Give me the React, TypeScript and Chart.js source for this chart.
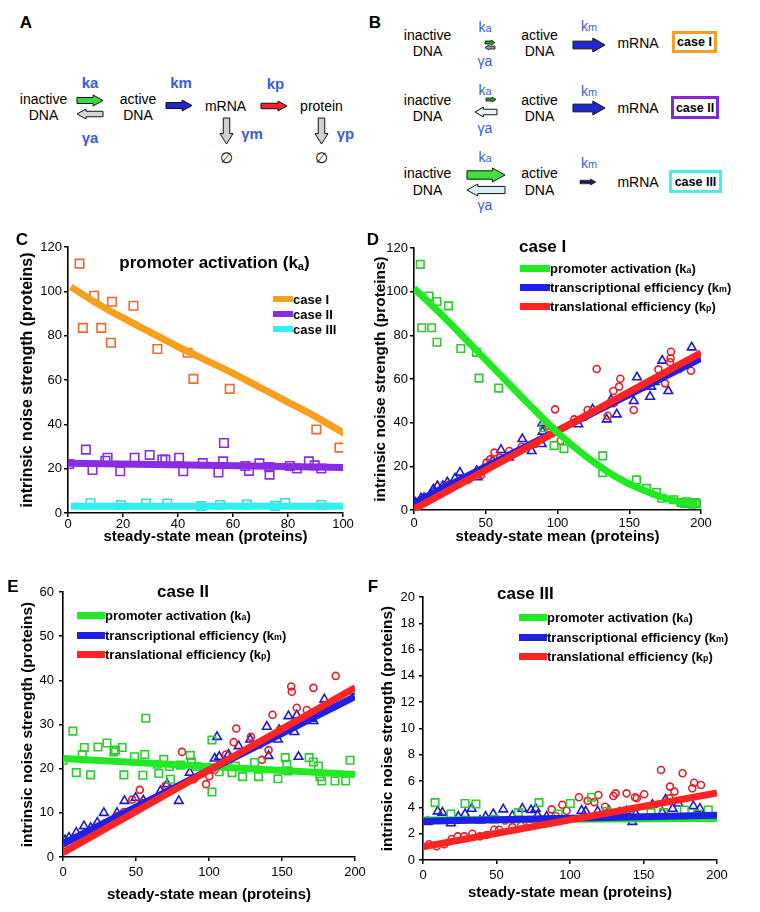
import React, { useEffect, useRef } from 'react';
import { Chart, registerables } from 'chart.js';
Chart.register(...registerables);

const FONT = '"Liberation Sans", Arial, Helvetica, sans-serif';
type Pt = [number, number];

// ---------- Panel C : promoter activation (ka), x 0..100 ----------
const cXTicks = [0, 20, 40, 60, 80, 100];
const cYTicks = [0, 20, 40, 60, 80, 100, 120];
const cCase1Pts: Pt[] = [[4.2,112.5],[5.4,83.5],[9.5,98],[12.1,83.5],[16,95.3],[15.6,76.8],[23.8,93.5],[32.5,74],[43.5,72.3],[45.6,60.5],[58.8,56],[90.3,37.7],[98.7,29.5]];
const cCase1Fit: Pt[] = [[1,102],[10,95],[20,88],[30,81.5],[40,75],[50,69],[60,63],[70,56.5],[80,50],[90,43.5],[101,35.5]];
const cCase2Pts: Pt[] = [[0.4,22.1],[6.5,28.6],[8.9,19.4],[13.6,23.6],[14.4,24.9],[19,18.8],[24.2,24.9],[29.7,26.2],[34.3,24.1],[35.4,24.1],[40.4,24.9],[41.9,18.8],[49,22.5],[54.7,18.3],[56.4,23.3],[56.7,31.6],[64.5,21.2],[65.8,19],[69.6,22.4],[73.2,20.7],[73.3,17.3],[80.7,21.2],[83.2,20.1],[87.6,23.3],[89.7,21.5],[92.1,20.1]];
const cCase2Fit: Pt[] = [[0,22.5],[101,20.5]];
const cCase3Pts: Pt[] = [[8.2,4.4],[19.2,3.6],[28.4,4.3],[36.1,4.3],[48.4,3.1],[55.3,3.6],[65,3.8],[75.3,3.2],[79,4.5],[92.1,3.6]];
const cCase3Fit: Pt[] = [[1,3],[101,3]];

// ---------- Panel D : case I ----------
const dXTicks = [0, 50, 100, 150, 200];
const dYTicks = [0, 20, 40, 60, 80, 100, 120];
const dPromoterPts: Pt[] = [[4.4,112.5],[5.4,83.5],[10.5,98],[12.3,83.5],[16,95.5],[16,76.8],[24,93.5],[32.6,74],[43.5,72.2],[45.3,60.4],[59,55.8],[90.3,37.7],[97.6,29.5],[104.5,28.1],[131.5,24.8],[131.5,17.1],[155,13.8],[162,9.9],[169,8],[172.6,5.4],[181,4.7],[186,3.5],[188.5,3],[190,3.8],[192,3.2],[194,2.7],[196,3.4],[197,2.9]];
const dPromoterFit: Pt[] = [[0,101.5],[20,89],[40,75.5],[60,62],[80,48.5],[100,35.5],[120,24.5],[140,15.5],[160,9],[180,4.5],[197,2.8]];
const dTranscriptPts: Pt[] = [[0.7,3.5],[4.9,5.4],[7,5.5],[11.8,7.3],[13.5,9.5],[16.3,11],[20,11],[23.2,12.7],[28.6,14.5],[32,17.1],[43.7,17.9],[44.4,15],[48.3,18.9],[54.8,22.6],[60.6,27.5],[66.2,24.1],[75.5,32.5],[82,27],[89,30.2],[89.4,39.7],[89.6,35.9],[98.3,35.9],[114.5,39.3],[124.5,46.1],[134.3,41.5],[137.3,50.4],[141.3,43.8],[153.1,49.9],[155.4,60.8],[157.6,56],[164.5,51.9],[165.2,56.5],[167.5,58.6],[173,68.4],[177.2,54.5],[183,64.4],[193.5,74.5]];
const dTranscriptFit: Pt[] = [[0,3.2],[200,69.5]];
const dTranslatPts: Pt[] = [[2,1.5],[4.9,3.8],[9.5,5.8],[14.6,6.9],[19,8.5],[23.9,11.5],[30,12],[38,14],[46.7,16],[50.6,21.7],[53,23.2],[56,26.3],[60,24],[66.4,27],[75,29],[84.3,30.2],[93.6,38.5],[95,35.9],[98.3,46.1],[102.2,31.7],[111.7,41.5],[119.2,42.7],[121,45.8],[127.3,64.6],[135,43.2],[138.9,54.5],[139.1,48.9],[142.9,56.5],[143.8,60.1],[153.1,45.8],[170.3,64.4],[174.9,58],[178.4,67.7],[178.8,69.5],[179.1,72.5],[193,63.8]];
const dTranslatFit: Pt[] = [[0,0.3],[200,72]];

// ---------- Panel E : case II ----------
const eXTicks = [0, 50, 100, 150, 200];
const eYTicks = [0, 10, 20, 30, 40, 50, 60];
const ePromoterPts: Pt[] = [[0,21.9],[6.8,28.5],[9.1,19.1],[13.2,23.2],[14.6,24.8],[18.9,18.6],[23.9,24.9],[30.1,25.8],[34.9,23.8],[36,24.2],[40.5,24.8],[41.7,18.6],[49,22.7],[54.7,18.5],[56,23.2],[56.7,31.4],[64.5,21],[65.6,18.9],[69,22.1],[72.9,20.5],[73.6,17.6],[80.5,20.8],[87.2,23],[88,21.5],[91.8,20.5],[102,26.5],[102,14.7],[107,19.3],[115.7,19.1],[118,20.6],[123,18.2],[131.2,21.4],[133.9,18.2],[147.2,17.7],[152.2,22.5],[153.3,21],[154,19.5],[168.6,22.5],[171.5,21.5],[175,20.6],[176,18.2],[177.2,17.2],[186.3,17.2],[193.6,17.2],[196.6,21.9]];
const ePromoterFit: Pt[] = [[0,22.3],[200,18.7]];
const eTranscriptPts: Pt[] = [[1.4,3.8],[4.1,4.4],[9.1,5.5],[14.4,7],[18.9,6.6],[23.5,7.8],[28,10],[37,10],[42.1,12.7],[49.7,13.4],[55,12.8],[66.7,14.9],[71.3,16.5],[79.3,12.7],[86.8,19.1],[98.6,19.8],[103.9,22.3],[105.5,27.2],[107,22.7],[113.4,23.2],[120.3,25.1],[128.2,26.6],[132.8,25.3],[139.6,29.5],[140.8,22.9],[147.2,26.6],[148,28.8],[154.4,31.9],[158.5,28.3],[160.1,32.1],[161.3,22.7],[170.4,31.3],[171.5,30.8],[179,35.7],[198.9,37.5]];
const eTranscriptFit: Pt[] = [[0,3],[200,36.3]];
const eTranslatPts: Pt[] = [[2,1.7],[8.7,3.2],[16.6,5.1],[22.3,6.3],[31.4,7.6],[37,9.3],[41.7,10.2],[47.4,13],[52.6,15.2],[53.8,12.3],[63,13],[70.2,16.1],[81.5,23.8],[89.5,17.6],[98,16.5],[100.2,18.3],[103.9,19.7],[111.6,23.2],[116.9,26],[118.7,29.1],[128.7,27.2],[136.2,22],[140.8,24.2],[143.5,32.2],[148.7,28.8],[156.3,38.6],[156.7,37.4],[160.1,33.8],[167,33.3],[171.5,38.3],[185.2,34],[186.8,41]];
const eTranslatFit: Pt[] = [[0,1],[200,38.3]];

// ---------- Panel F : case III ----------
const fXTicks = [0, 50, 100, 150, 200];
const fYTicks = [0, 2, 4, 6, 8, 10, 12, 14, 16, 18, 20];
const fPromoterPts: Pt[] = [[8.2,4.36],[19,3.5],[28.6,4.3],[36,4.26],[48.5,3.1],[64.9,3.6],[78.9,4.36],[92,3.5],[100.2,4.3],[114.7,4.77],[125,3.7],[140,3.4],[155.1,3.6],[163.5,3.6],[177.8,3.8],[186.8,3.5],[194.1,3.8]];
const fPromoterFit: Pt[] = [[0,3.05],[200,3.15]];
const fTranscriptPts: Pt[] = [[3.2,2.9],[10,3.7],[13.2,3.6],[19,2.8],[24,3.3],[28.6,3.5],[33.1,3.9],[38.8,3.0],[42.6,3.3],[47.8,3.5],[54.6,3.85],[60.8,3.35],[67.6,3.9],[73.5,3.8],[76.6,3.9],[78,3.4],[84.1,3.3],[90.9,2.9],[94.3,3.0],[107.9,3.75],[110.7,3.7],[118.8,3.7],[126.5,3.75],[133.6,3.6],[138.5,3.7],[142.4,2.9],[144.7,3.5],[156,4.2],[162.8,3.6],[165,4.6],[169.8,3.9],[173.7,4.3],[183.9,4.1],[188.4,3.9]];
const fTranscriptFit: Pt[] = [[0,2.95],[200,3.4]];
const fTranslatPts: Pt[] = [[4.1,1.2],[9.3,1.05],[14.5,1.2],[19.5,1.6],[23.6,1.8],[28.1,1.8],[33.6,2.0],[38.8,1.8],[43.3,1.9],[48.5,2.3],[51.7,2.3],[55.8,3.0],[60.8,2.5],[66.7,2.6],[72.8,2.8],[83,2.8],[87.5,3.85],[90.2,3.35],[94.8,4.2],[97.7,3.75],[106.1,4.77],[112,4.5],[116.6,4.4],[119.3,4.94],[123.8,4.05],[129.5,4.87],[131,5.07],[138.5,5.07],[144.2,4.77],[145.4,4.7],[150.5,5.0],[161.9,6.84],[167.6,4.7],[168,5.58],[171,5.2],[176.6,6.6],[183.2,5.45],[184.4,5.88],[189.1,5.7]];
const fTranslatFit: Pt[] = [[0,1],[200,5.1]];

// ---------- colours ----------
const ORANGE_LINE = '#f5a01e';
const ORANGE_PT = '#f06a2e';
const PURPLE = '#8a2be6';
const CYAN_LINE = '#2ef0f0';
const CYAN_PT = '#3ed8d8';
const GREEN_LINE = '#22ea22';
const GREEN_PT = '#2ecc2e';
const BLUE_LINE = '#1f1fe6';
const BLUE_PT = '#1a1ad6';
const RED_LINE = '#ff2424';
const RED_PT = '#ec1c24';
const TEXT_BLUE = '#3a5ae8';

const toXY = (a: Pt[]) => a.map(([x, y]) => ({ x, y }));

const lineDs = (data: Pt[], color: string, width = 7) => ({
  data: toXY(data),
  showLine: true,
  borderColor: color,
  backgroundColor: color,
  borderWidth: width,
  pointRadius: 0,
  pointHoverRadius: 0,
  fill: false,
  tension: 0.4,
  cubicInterpolationMode: 'monotone',
});

const ptsDs = (data: Pt[], color: string, style: string, radius: number) => ({
  data: toXY(data),
  showLine: false,
  pointStyle: style,
  pointRadius: radius,
  pointHoverRadius: radius,
  pointBorderColor: color,
  pointBackgroundColor: 'rgba(0,0,0,0)',
  pointBorderWidth: 1.6,
  borderColor: color,
  backgroundColor: 'rgba(0,0,0,0)',
});

interface Geo {
  left: number; top: number; width: number; height: number;
  yW: number; xH: number; padTop: number; padRight: number;
  xTickPad: number; yTickPad: number; yTitleSize: number;
}

function ScatterPanel(props: { geo: Geo; datasets: any[]; xTicks: number[]; yTicks: number[] }) {
  const { geo, datasets, xTicks, yTicks } = props;
  const ref = useRef<HTMLCanvasElement>(null);
  useEffect(() => {
    const axisCommon = (ticks: number[], pad: number) => ({
      type: 'linear',
      min: ticks[0],
      max: ticks[ticks.length - 1],
      ticks: {
        stepSize: ticks[1] - ticks[0],
        color: '#000',
        padding: pad,
        font: { family: FONT, size: 13 },
      },
      grid: { drawOnChartArea: false, drawTicks: true, tickLength: 4, color: '#000', lineWidth: 1.5 },
      border: { color: '#000', width: 1.6 },
    });
    const chart = new Chart(ref.current as HTMLCanvasElement, {
      type: 'scatter',
      data: { datasets },
      options: {
        responsive: false,
        animation: false,
        events: [],
        layout: { padding: { top: geo.padTop, right: geo.padRight, left: 0, bottom: 0 } },
        plugins: { legend: { display: false }, tooltip: { enabled: false }, title: { display: false } },
        scales: {
          x: {
            ...axisCommon(xTicks, geo.xTickPad),
            title: {
              display: true,
              text: 'steady-state mean (proteins)',
              color: '#000',
              padding: 0,
              font: { family: FONT, size: 15, weight: 'bold' },
            },
            afterFit: (s: any) => { s.height = geo.xH; },
          },
          y: {
            ...axisCommon(yTicks, geo.yTickPad),
            title: {
              display: true,
              text: 'intrinsic noise strength (proteins)',
              color: '#000',
              padding: 0,
              font: { family: FONT, size: geo.yTitleSize, weight: 'bold' },
            },
            afterFit: (s: any) => { s.width = geo.yW; },
          },
        },
      } as any,
    } as any);
    return () => chart.destroy();
  }, []);
  return (
    <canvas
      ref={ref}
      width={geo.width}
      height={geo.height}
      style={{ position: 'absolute', left: geo.left, top: geo.top, width: geo.width, height: geo.height }}
    />
  );
}

// ---------- HTML helpers for the diagrams / in-plot labels ----------
function Txt(props: { x: number; y: number; children: any; size?: number; bold?: boolean; color?: string; left?: boolean; lh?: number }) {
  const { x, y, children, size = 14, bold = false, color = '#000', left = false, lh } = props;
  return (
    <div
      style={{
        position: 'absolute',
        left: x,
        top: y,
        transform: left ? 'translate(0,-50%)' : 'translate(-50%,-50%)',
        fontSize: size,
        fontWeight: bold ? 700 : 400,
        color,
        whiteSpace: 'nowrap',
        lineHeight: lh ? `${lh}px` : 1,
        textAlign: 'center',
      }}
    >
      {children}
    </div>
  );
}

function Arrow(props: { x: number; y: number; w: number; h: number; dir?: string; fill: string; stroke?: string; sw?: number; shaft?: number }) {
  const { x, y, w, h, dir = 'right', fill, stroke = '#111', sw = 1, shaft = 0.5 } = props;
  let pts: number[][];
  if (dir === 'right' || dir === 'left') {
    const hl = Math.min(w * 0.38, h * 0.9);
    const s1 = h * (0.5 - shaft / 2);
    const s2 = h * (0.5 + shaft / 2);
    pts = [[0, s1], [w - hl, s1], [w - hl, 0], [w, h / 2], [w - hl, h], [w - hl, s2], [0, s2]];
    if (dir === 'left') pts = pts.map(([px, py]) => [w - px, py]);
  } else {
    const hl = Math.min(h * 0.4, w * 0.8);
    const s1 = w * (0.5 - shaft / 2);
    const s2 = w * (0.5 + shaft / 2);
    pts = [[s1, 0], [s2, 0], [s2, h - hl], [w, h - hl], [w / 2, h], [0, h - hl], [s1, h - hl]];
  }
  return (
    <svg style={{ position: 'absolute', left: x, top: y, overflow: 'visible' }} width={w} height={h}>
      <polygon points={pts.map((p) => p.join(',')).join(' ')} fill={fill} stroke={stroke} strokeWidth={sw} />
    </svg>
  );
}

const SmallA = (p: { c: string }) => <span style={{ fontSize: '0.68em' }}>{p.c}</span>;

function Legend(props: { x: number; ys: number[]; len: number; thick: number; items: { color: string; label: any }[]; size?: number }) {
  const { x, ys, len, thick, items, size = 13 } = props;
  return (
    <>
      {items.map((it, i) => (
        <React.Fragment key={i}>
          <div style={{ position: 'absolute', left: x, top: ys[i] - thick / 2, width: len, height: thick, background: it.color }} />
          <Txt x={x + len} y={ys[i]} size={size} bold left>{it.label}</Txt>
        </React.Fragment>
      ))}
    </>
  );
}

function CaseBox(props: { x: number; y: number; w: number; h: number; color: string; text: string }) {
  const { x, y, w, h, color, text } = props;
  return (
    <div
      style={{
        position: 'absolute', left: x, top: y, width: w, height: h, boxSizing: 'border-box',
        border: `3px solid ${color}`, background: '#fff', display: 'flex', alignItems: 'center',
        justifyContent: 'center', fontWeight: 700, fontSize: 12.5, whiteSpace: 'nowrap',
      }}
    >
      {text}
    </div>
  );
}

const K = (p: { s: string; bold?: boolean }) => (
  <span>k<span style={{ fontSize: '0.78em' }}>{p.s}</span></span>
);

function DiagramA() {
  return (
    <>
      <Txt x={26} y={22} size={17} bold>A</Txt>
      <Txt x={43.5} y={107} lh={16}>inactive<br />DNA</Txt>
      <Txt x={90} y={82} size={15} bold color={TEXT_BLUE}>ka</Txt>
      <Arrow x={77} y={95} w={26} h={11} fill="#3ad83a" shaft={0.55} />
      <Arrow x={77} y={109} w={26} h={10} dir="left" fill="#d4d8d8" shaft={0.55} />
      <Txt x={90} y={137} size={15} bold color={TEXT_BLUE}>γa</Txt>
      <Txt x={138} y={107} lh={16}>active<br />DNA</Txt>
      <Txt x={181} y={82} size={15} bold color={TEXT_BLUE}>km</Txt>
      <Arrow x={166} y={100} w={26} h={11} fill="#1e28c8" shaft={0.55} />
      <Txt x={225.5} y={106}>mRNA</Txt>
      <Txt x={275.5} y={83} size={15} bold color={TEXT_BLUE}>kp</Txt>
      <Arrow x={261} y={101} w={26} h={10} fill="#e82828" shaft={0.55} />
      <Txt x={321.5} y={106}>protein</Txt>
      <Arrow x={220} y={118} w={13} h={26} dir="down" fill="#d0d0d0" shaft={0.5} />
      <Txt x={252} y={133} size={15} bold color={TEXT_BLUE}>γm</Txt>
      <Txt x={226.5} y={157} size={15}>∅</Txt>
      <Arrow x={315} y={118} w={13} h={26} dir="down" fill="#d0d0d0" shaft={0.5} />
      <Txt x={345.5} y={133} size={15} bold color={TEXT_BLUE}>γp</Txt>
      <Txt x={321.5} y={157} size={15}>∅</Txt>
    </>
  );
}

function DiagramB() {
  const rows = [
    { y1: 35, y2: 51, ka: 27, ga: 61, km: 26, mrna: 43 },
    { y1: 100, y2: 116, ka: 90, ga: 128, km: 91, mrna: 108 },
    { y1: 173, y2: 190, ka: 157, ga: 205, km: 163, mrna: 182 },
  ];
  return (
    <>
      <Txt x={375} y={22} size={17} bold>B</Txt>
      {rows.map((r, i) => (
        <React.Fragment key={i}>
          <Txt x={427.5} y={(r.y1 + r.y2) / 2} lh={r.y2 - r.y1}>inactive<br />DNA</Txt>
          <Txt x={539.5} y={(r.y1 + r.y2) / 2} lh={r.y2 - r.y1}>active<br />DNA</Txt>
          <Txt x={485} y={r.ka} size={14} color={TEXT_BLUE}><K s="a" /></Txt>
          <Txt x={485} y={r.ga} size={14} color={TEXT_BLUE}>γa</Txt>
          <Txt x={589} y={r.km} size={14} color={TEXT_BLUE}><K s="m" /></Txt>
          <Txt x={638} y={r.mrna}>mRNA</Txt>
        </React.Fragment>
      ))}
      {/* row 1 */}
      <Arrow x={485} y={40} w={10} h={5} fill="#2e9a2e" sw={0.8} shaft={0.6} />
      <Arrow x={485} y={45} w={10} h={5} dir="left" fill="#8a9a9a" sw={0.8} shaft={0.6} />
      <Arrow x={573} y={38} w={32} h={14} fill="#1e2ad0" shaft={0.55} />
      <CaseBox x={672} y={31} w={45} h={22} color="#f2a02a" text="case I" />
      {/* row 2 */}
      <Arrow x={486} y={97} w={10} h={5} fill="#2e9a2e" sw={0.8} shaft={0.6} />
      <Arrow x={475} y={107} w={22} h={10} dir="left" fill="#eef4f4" shaft={0.55} />
      <Arrow x={573} y={101} w={32} h={14} fill="#1e2ad0" shaft={0.55} />
      <CaseBox x={671} y={96} w={48} h={23} color="#8326dc" text="case II" />
      {/* row 3 */}
      <Arrow x={467} y={168} w={38} h={14} fill="#3ee03e" shaft={0.6} />
      <Arrow x={467} y={184} w={38} h={12} dir="left" fill="#d4f2f2" shaft={0.6} />
      <Arrow x={580} y={179} w={16} h={6} fill="#1a1a60" sw={0.6} shaft={0.6} />
      <CaseBox x={669} y={170} w={53} h={23} color="#48eeee" text="case III" />
    </>
  );
}

export default function App() {
  const cData = [
    lineDs(cCase1Fit, ORANGE_LINE),
    lineDs(cCase2Fit, PURPLE),
    lineDs(cCase3Fit, CYAN_LINE),
    ptsDs(cCase1Pts, ORANGE_PT, 'rect', 6),
    ptsDs(cCase2Pts, PURPLE, 'rect', 6),
    ptsDs(cCase3Pts, CYAN_PT, 'rect', 6),
  ];
  const dData = [
    lineDs(dPromoterFit, GREEN_LINE),
    lineDs(dTranslatFit, RED_LINE),
    lineDs(dTranscriptFit, BLUE_LINE),
    ptsDs(dPromoterPts, GREEN_PT, 'rect', 5.3),
    ptsDs(dTranslatPts, RED_PT, 'circle', 3.5),
    ptsDs(dTranscriptPts, BLUE_PT, 'triangle', 5),
  ];
  const eData = [
    lineDs(eTranslatFit, RED_LINE),
    lineDs(eTranscriptFit, BLUE_LINE),
    lineDs(ePromoterFit, GREEN_LINE),
    ptsDs(ePromoterPts, GREEN_PT, 'rect', 5.3),
    ptsDs(eTranslatPts, RED_PT, 'circle', 3.5),
    ptsDs(eTranscriptPts, BLUE_PT, 'triangle', 5),
  ];
  const fData = [
    lineDs(fTranslatFit, RED_LINE),
    lineDs(fTranscriptFit, BLUE_LINE),
    lineDs(fPromoterFit, GREEN_LINE),
    ptsDs(fPromoterPts, GREEN_PT, 'rect', 5.3),
    ptsDs(fTranslatPts, RED_PT, 'circle', 3.5),
    ptsDs(fTranscriptPts, BLUE_PT, 'triangle', 5),
  ];

  const caseLegend = [
    { color: GREEN_LINE, label: <>promoter activation (k<SmallA c="a" />)</> },
    { color: BLUE_LINE, label: <>transcriptional efficiency (k<SmallA c="m" />)</> },
    { color: RED_LINE, label: <>translational efficiency (k<SmallA c="p" />)</> },
  ];

  return (
    <div
      style={{
        position: 'absolute', left: 0, top: 0, width: 760, height: 912, background: '#fff',
        overflow: 'hidden', fontFamily: FONT, color: '#000',
      }}
    >
      <DiagramA />
      <DiagramB />

      {/* C */}
      <ScatterPanel
        geo={{ left: 18, top: 230, width: 347, height: 316, yW: 50, xH: 33, padTop: 17, padRight: 22, xTickPad: 0, yTickPad: 2, yTitleSize: 16 }}
        datasets={cData}
        xTicks={cXTicks}
        yTicks={cYTicks}
      />
      <Txt x={22} y={239} size={17} bold>C</Txt>
      <Txt x={214.5} y={263} size={17} bold>
        promoter activation (k<span style={{ fontSize: '0.65em', verticalAlign: '-0.25em' }}>a</span>)
      </Txt>
      <Legend
        x={273} ys={[299, 314, 329]} len={20} thick={6}
        items={[
          { color: ORANGE_LINE, label: 'case I' },
          { color: PURPLE, label: 'case II' },
          { color: CYAN_LINE, label: 'case III' },
        ]}
      />

      {/* D */}
      <ScatterPanel
        geo={{ left: 372, top: 232, width: 353, height: 314, yW: 42, xH: 36, padTop: 16, padRight: 24, xTickPad: 2, yTickPad: 2, yTitleSize: 15.4 }}
        datasets={dData}
        xTicks={dXTicks}
        yTicks={dYTicks}
      />
      <Txt x={373} y={239} size={17} bold>D</Txt>
      <Txt x={519} y={246} size={17} bold left>case I</Txt>
      <Legend x={520} ys={[268, 287, 306]} len={30} thick={7} items={caseLegend} />

      {/* E */}
      <ScatterPanel
        geo={{ left: 19, top: 576, width: 361, height: 328, yW: 44, xH: 47, padTop: 16, padRight: 25, xTickPad: 4, yTickPad: 5, yTitleSize: 15.4 }}
        datasets={eData}
        xTicks={eXTicks}
        yTicks={eYTicks}
      />
      <Txt x={13} y={586} size={17} bold>E</Txt>
      <Txt x={157} y={591} size={17} bold left>case II</Txt>
      <Legend x={77} ys={[615, 635, 654]} len={28} thick={7} items={caseLegend} />

      {/* F */}
      <ScatterPanel
        geo={{ left: 379, top: 580, width: 366, height: 322, yW: 44, xH: 42, padTop: 17, padRight: 28, xTickPad: 4, yTickPad: 4, yTitleSize: 15.4 }}
        datasets={fData}
        xTicks={fXTicks}
        yTicks={fYTicks}
      />
      <Txt x={373} y={586} size={17} bold>F</Txt>
      <Txt x={497} y={593} size={17} bold left>case III</Txt>
      <Legend x={519} ys={[617, 637, 656]} len={28} thick={7} items={caseLegend} />
    </div>
  );
}
